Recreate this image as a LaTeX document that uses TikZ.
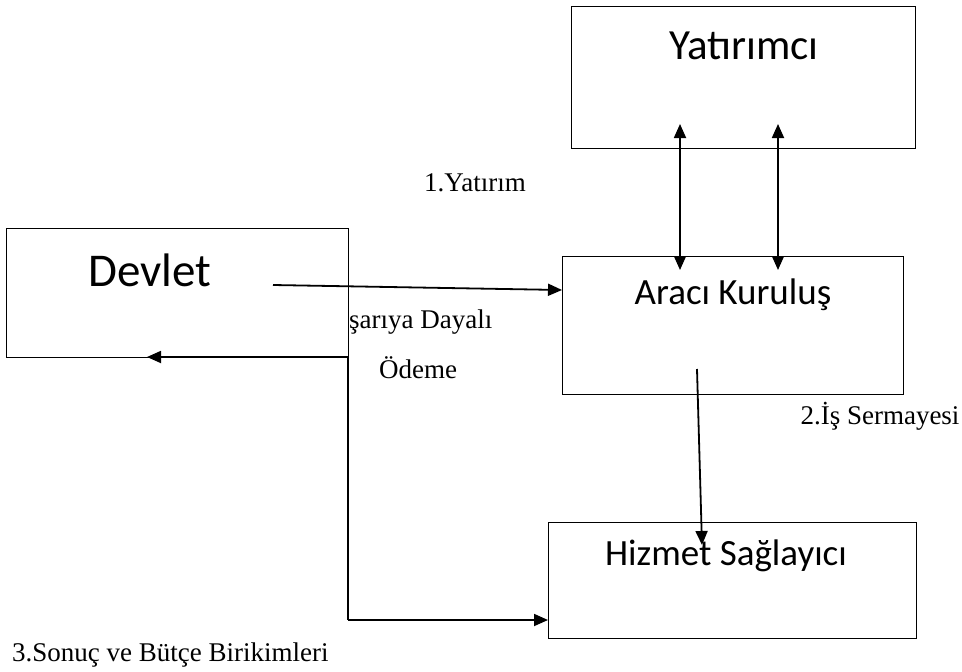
\documentclass[tikz,border=0pt]{standalone}
\usepackage{fontspec}
\setmainfont{Liberation Serif}
\newfontfamily\boxfont{Carlito}
\usetikzlibrary{arrows.meta,positioning}
\begin{document}
\begin{tikzpicture}[x=1pt,y=-1pt,
  boxst/.style={draw,line width=1.3pt,inner sep=0pt,anchor=north west},
  arr/.style={line width=1.8pt,-{Triangle[length=14pt,width=12pt]}},
  darr/.style={line width=1.8pt,{Triangle[length=14pt,width=12pt]}-{Triangle[length=14pt,width=12pt]}},
  plain/.style={line width=1.8pt},
  lbl/.style={font=\fontsize{27}{31}\selectfont,inner sep=0pt},
  btxt/.style={inner sep=0pt}
]
\useasboundingbox (0,0) rectangle (962,672);
% boxes
\node[boxst,minimum width=344pt,minimum height=142pt] (yat) at (571,6) {};
\node[boxst,minimum width=342pt,minimum height=129pt] (dev) at (6,228) {};
\node[boxst,minimum width=341pt,minimum height=138pt] (ara) at (562,256) {};
\node[boxst,minimum width=368pt,minimum height=116pt] (hiz) at (548,522) {};
% box texts
\node[btxt,font=\boxfont\fontsize{43}{48}\selectfont] (tyat) at (744,46) {Yatırımcı};
\node[btxt,font=\boxfont\fontsize{47}{52}\selectfont] (tdev) at (150,270) {Devlet};
\node[btxt,font=\boxfont\fontsize{37}{42}\selectfont] (tara) at (733,295) {Aracı Kuruluş};
\node[btxt,font=\boxfont\fontsize{37}{42}\selectfont] (thiz) at (726,556) {Hizmet Sağlayıcı};
% coordinates
\coordinate (d1) at (273,285);
\coordinate (a1) at (562,290);
\coordinate (corner) at (348,357);
\coordinate (low) at (348,620);
\coordinate (h1) at (548,620);
\coordinate (dl) at (147,357);
\coordinate (y1t) at (680,124);
\coordinate (y1b) at (680,270);
\coordinate (y2t) at (778,124);
\coordinate (y2b) at (778,270);
\coordinate (a2) at (697,369);
\coordinate (h2) at (702,545);
% connectors
\draw[arr] (d1) -- (a1);
\draw[plain] (corner) -- (low);
\draw[arr] (low) -- (h1);
\draw[arr] (corner) -- (dl);
\draw[darr] (y1b) -- (y1t);
\draw[darr] (y2b) -- (y2t);
\draw[arr] (a2) -- (h2);
% labels
\node[lbl] (l1) at (475,183) {1.Yatırım};
\node[lbl,anchor=west] (l2) at (349,322) {şarıya Dayalı};
\node[lbl] (l3) at (418,368) {Ödeme};
\node[lbl] (l4) at (880,416) {2.İş Sermayesi};
\node[lbl,anchor=west] (l5) at (12,655) {3.Sonuç ve Bütçe Birikimleri};
\end{tikzpicture}
\end{document}
